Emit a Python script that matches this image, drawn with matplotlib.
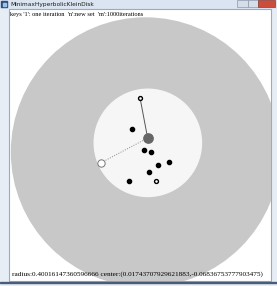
import matplotlib
matplotlib.use("Agg")
import matplotlib.pyplot as plt
from matplotlib.patches import Circle, Rectangle

# window / canvas size in pixels
W, H = 277, 286

# points of the set, in unit Klein-disk coordinates (y grows downward)
pts_x = [-0.100, -0.009, 0.043, 0.174, 0.095, 0.024, -0.122]
pts_y = [-0.168, -0.017, -0.002, 0.076, 0.096, 0.150, 0.220]
ring_x = [-0.041, 0.076]
ring_y = [-0.405, 0.215]

# minimax disk result
radius = 0.40016147360596666
center = (0.01743707929621883, -0.06836753777903474)
hcenter = (0.016, -0.104)        # dark marker
far_pt = (-0.041, -0.405)        # farthest point (solid line)
tangent_pt = (-0.330, 0.079)     # white marker (dotted line)

title = "MinimaxHyperbolicKleinDisk"
keys_text = "keys '1': one iteration  'n':new set  'm':1000iterations"
info_text = "radius:%s center:(%s,%s)" % (repr(radius), repr(center[0]), repr(center[1]))

fig = plt.figure(figsize=(W / 100, H / 100), dpi=100)
fig.patch.set_facecolor("#e6edf5")

# window frame in pixel coords
ax = fig.add_axes([0, 0, 1, 1])
ax.set_xlim(0, W)
ax.set_ylim(H, 0)
ax.axis("off")

ax.add_patch(Rectangle((0, 0), W, 8, color="#dbe5f1", zorder=1))
ax.add_patch(Rectangle((1, 1), 6, 6, color="#2b4f7e", zorder=2))
ax.add_patch(Rectangle((2.5, 2.5), 3, 3, color="#9fc3e8", zorder=3))
ax.text(10, 4.2, title, fontsize=4.2, va="center", ha="left", color="#1a1a1a", zorder=3)
# min / max / close buttons
ax.add_patch(Rectangle((237, 0), 11, 7, facecolor="#d4dde8", edgecolor="#8a99ad", lw=0.5, zorder=2))
ax.add_patch(Rectangle((248, 0), 10, 7, facecolor="#d4dde8", edgecolor="#8a99ad", lw=0.5, zorder=2))
ax.add_patch(Rectangle((258, 0), 17, 7, facecolor="#cf4b3a", edgecolor="#8a3a30", lw=0.5, zorder=2))

content = Rectangle((8.5, 8.5), 262.5, 272.5, facecolor="white", edgecolor="#9aabc0", lw=0.8, zorder=1)
ax.add_patch(content)

# disk axes: unit circle mapped on the canvas
cx, cy, R = 145.5, 152, 134
dax = fig.add_axes([(cx - R) / W, 1 - (cy + R) / H, 2 * R / W, 2 * R / H])
dax.set_xlim(-1, 1)
dax.set_ylim(1, -1)
dax.axis("off")
dax.patch.set_alpha(0)

clip = Rectangle((9, 9), 262, 272, transform=ax.transData)

big = Circle((0, 0), 1, color="#c8c8c8", zorder=1)
dax.add_patch(big)
big.set_clip_path(clip)
dax.add_patch(Circle(center, radius, color="#f6f6f6", zorder=2))

dax.plot([far_pt[0], hcenter[0]], [far_pt[1], hcenter[1]], color="#555555", lw=0.7, zorder=3)
dax.plot([tangent_pt[0], hcenter[0]], [tangent_pt[1], hcenter[1]], color="#888888", lw=0.7,
         ls=(0, (1, 1.5)), zorder=3)

dax.scatter(pts_x, pts_y, s=9, color="black", zorder=4)
dax.scatter(ring_x, ring_y, s=8, facecolor="white", edgecolor="black", lw=1.0, zorder=4)
dax.scatter([hcenter[0]], [hcenter[1]], s=45, color="#666666", zorder=5)
dax.scatter([tangent_pt[0]], [tangent_pt[1]], s=28, facecolor="white", edgecolor="#777777", lw=0.7, zorder=5)

# overlay: texts and lower frame on top of the disk
tax = fig.add_axes([0, 0, 1, 1])
tax.set_xlim(0, W)
tax.set_ylim(H, 0)
tax.axis("off")
tax.patch.set_alpha(0)
tax.add_patch(Rectangle((0, 281.5), W, 1.5, color="#4a5d78"))
tax.text(10, 14.5, keys_text, fontsize=4.6, family="Liberation Serif", va="center", ha="left",
         color="black")
tax.text(12, 274.5, info_text, fontsize=5.2, family="Liberation Serif", va="center", ha="left",
         color="black")

fig.savefig("out.png", dpi=100, facecolor=fig.get_facecolor())
